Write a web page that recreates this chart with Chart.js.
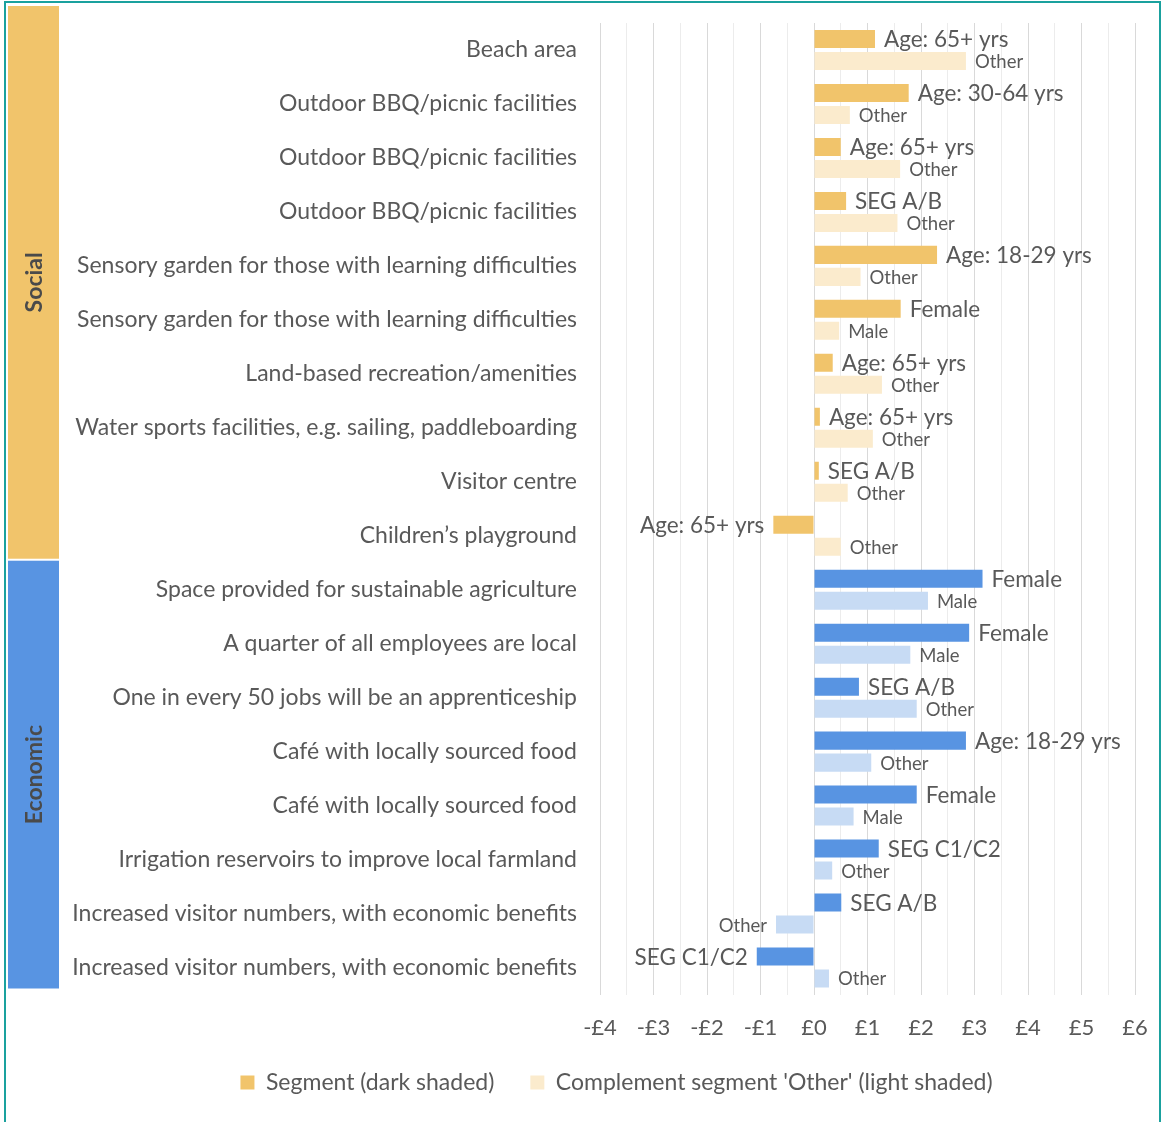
<!DOCTYPE html>
<html>
<head>
<meta charset="utf-8">
<script src="https://cdn.jsdelivr.net/npm/chart.js@4"></script>
<style>
  body { margin: 0; background: #fff; }
  #wrap { position: relative; width: 1161px; height: 1122px; }
  #frame {
    position: absolute; left: 4px; top: 1px; width: 1153px; height: 1119px;
    border: 2px solid #1aa19e; border-bottom: 1px solid #d6ecea;
    pointer-events: none;
  }
</style>
</head>
<body>
<div id="wrap">
  <canvas id="chart" width="1161" height="1122"></canvas>
  <div id="frame"></div>
</div>
<script>
const categories = [
  "Beach area",
  "Outdoor BBQ/picnic facilities",
  "Outdoor BBQ/picnic facilities",
  "Outdoor BBQ/picnic facilities",
  "Sensory garden for those with learning difficulties",
  "Sensory garden for those with learning difficulties",
  "Land-based recreation/amenities",
  "Water sports facilities, e.g. sailing, paddleboarding",
  "Visitor centre",
  "Children’s playground",
  "Space provided for sustainable agriculture",
  "A quarter of all employees are local",
  "One in every 50 jobs will be an apprenticeship",
  "Café with locally sourced food",
  "Café with locally sourced food",
  "Irrigation reservoirs to improve local farmland",
  "Increased visitor numbers, with economic benefits",
  "Increased visitor numbers, with economic benefits",
];

const groupNames = ["Social", "Economic"];
const groupSizes = [10, 8];

// value per person (£), dark = segment, light = complement
const segmentValues = [1.14, 1.77, 0.50, 0.60, 2.30, 1.62, 0.35, 0.11, 0.09, -0.76,
                       3.15, 2.90, 0.84, 2.84, 1.92, 1.21, 0.51, -1.07];
const segmentLabels = ["Age: 65+ yrs", "Age: 30-64 yrs", "Age: 65+ yrs", "SEG A/B", "Age: 18-29 yrs",
                       "Female", "Age: 65+ yrs", "Age: 65+ yrs", "SEG A/B", "Age: 65+ yrs",
                       "Female", "Female", "SEG A/B", "Age: 18-29 yrs", "Female",
                       "SEG C1/C2", "SEG A/B", "SEG C1/C2"];
const otherValues = [2.84, 0.67, 1.61, 1.56, 0.87, 0.47, 1.27, 1.10, 0.63, 0.50,
                     2.13, 1.80, 1.92, 1.07, 0.74, 0.34, -0.71, 0.28];
const otherLabels = ["Other", "Other", "Other", "Other", "Other", "Male", "Other", "Other", "Other", "Other",
                     "Male", "Male", "Other", "Other", "Male", "Other", "Other", "Other"];

const darkColors = ["#f1c46b", "#5894e2"];
const lightColors = ["#fbebcd", "#c7dbf4"];
const textColor = "#595959";
const font = "Lato";

// colour for each row based on its group
const rowGroup = [];
groupSizes.forEach((n, g) => { for (let i = 0; i < n; i++) rowGroup.push(g); });

const bandPlugin = {
  id: "bands",
  afterLayout(chart) {
    // nudge the legend a little, as in the original
    chart.legend.left += 19;
    chart.legend.right += 19;
    chart.legend.top -= 7.5;
    chart.legend.bottom -= 7.5;
  },
  beforeDraw(chart) {
    const { ctx, scales: { y }, chartArea } = chart;
    const rowH = y.getPixelForValue(1) - y.getPixelForValue(0);
    let start = 0;
    groupNames.forEach((name, g) => {
      const end = start + groupSizes[g] - 1;
      let top = y.getPixelForValue(start) - rowH / 2 - 2;
      let bottom = y.getPixelForValue(end) + rowH / 2;
      if (g === 0) top = chartArea.top - 17;
      if (g < groupNames.length - 1) bottom -= 4;
      else bottom -= 6;
      ctx.save();
      ctx.fillStyle = darkColors[g];
      ctx.fillRect(8, top, 51, bottom - top);
      ctx.translate(35, (top + bottom) / 2);
      ctx.rotate(-Math.PI / 2);
      ctx.fillStyle = "#4a4a4a";
      ctx.font = "bold 23px " + font;
      ctx.textAlign = "center";
      ctx.textBaseline = "middle";
      ctx.fillText(name, 0, 0);
      ctx.restore();
      start = end + 1;
    });
  },
};

const labelPlugin = {
  id: "barLabels",
  afterDatasetsDraw(chart) {
    const { ctx } = chart;
    const sets = [[segmentLabels, 22.5], [otherLabels, 18.5]];
    chart.data.datasets.forEach((ds, d) => {
      const meta = chart.getDatasetMeta(d);
      meta.data.forEach((bar, i) => {
        const v = ds.data[i];
        ctx.save();
        ctx.fillStyle = textColor;
        ctx.font = sets[d][1] + "px " + font;
        ctx.textBaseline = "middle";
        if (v >= 0) {
          ctx.textAlign = "left";
          ctx.fillText(sets[d][0][i], bar.x + 9, bar.y + 1);
        } else {
          ctx.textAlign = "right";
          ctx.fillText(sets[d][0][i], bar.x - 9, bar.y + 1);
        }
        ctx.restore();
      });
    });
  },
};

new Chart(document.getElementById("chart"), {
  type: "bar",
  data: {
    labels: categories,
    datasets: [
      {
        label: "Segment (dark shaded)",
        data: segmentValues,
        backgroundColor: rowGroup.map((g) => darkColors[g]),
        categoryPercentage: 0.815,
        barPercentage: 0.82,
      },
      {
        label: "Complement segment 'Other' (light shaded)",
        data: otherValues,
        backgroundColor: rowGroup.map((g) => lightColors[g]),
        categoryPercentage: 0.815,
        barPercentage: 0.82,
      },
    ],
  },
  options: {
    indexAxis: "y",
    responsive: false,
    animation: false,
    layout: { padding: { left: 60, top: 23, right: 26, bottom: 10.5 } },
    scales: {
      x: {
        min: -4,
        max: 6,
        border: { display: false },
        grid: {
          drawTicks: false,
          color: (c) => (c.tick && Number.isInteger(c.tick.value) ? "#d9d9d9" : "#ececec"),
        },
        ticks: {
          stepSize: 0.5,
          autoSkip: false,
          maxRotation: 0,
          padding: 20,
          color: textColor,
          font: { family: font, size: 22 },
          callback: (v) => {
            if (!Number.isInteger(v)) return "";
            return (v < 0 ? "-£" : "£") + Math.abs(v);
          },
        },
        afterFit: (scale) => {
          scale.height = 48;
          scale.paddingLeft = 0;
          scale.paddingRight = 0;
        },
      },
      y: {
        border: { display: false },
        grid: { display: false, drawTicks: false },
        ticks: {
          padding: 23,
          color: textColor,
          autoSkip: false,
          font: { family: font, size: 23 },
        },
        afterFit: (scale) => {
          scale.width = 540;
          scale.paddingTop = 0;
          scale.paddingBottom = 0;
        },
      },
    },
    plugins: {
      tooltip: { enabled: false },
      legend: {
        position: "bottom",
        labels: {
          color: textColor,
          font: { family: font, size: 23 },
          boxWidth: 14,
          boxHeight: 14,
          padding: 36,
          generateLabels: (chart) =>
            chart.data.datasets.map((ds, i) => ({
              text: ds.label,
              fillStyle: i === 0 ? darkColors[0] : lightColors[0],
              strokeStyle: "transparent",
              lineWidth: 0,
              datasetIndex: i,
              fontColor: textColor,
            })),
        },
      },
    },
  },
  plugins: [bandPlugin, labelPlugin],
});
</script>
</body>
</html>
